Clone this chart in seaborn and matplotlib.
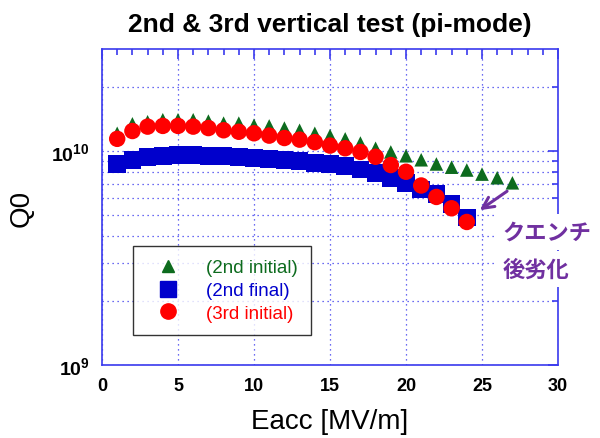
import math
import matplotlib
matplotlib.use('Agg')
import matplotlib.pyplot as plt
import seaborn as sns
from matplotlib.ticker import MultipleLocator, FixedLocator, NullFormatter, FuncFormatter
from matplotlib.lines import Line2D

# Data (Eacc in MV/m, Q0)
eacc_2nd_initial = [1, 2, 3, 4, 5, 6, 7, 8, 9, 10, 11, 12, 13, 14, 15, 16, 17, 18, 19, 20,
                    21, 22, 23, 24, 25, 26, 27]
q0_2nd_initial = [1.21e10, 1.34e10, 1.37e10, 1.40e10, 1.40e10, 1.40e10, 1.38e10, 1.35e10,
                  1.35e10, 1.32e10, 1.31e10, 1.28e10, 1.25e10, 1.21e10, 1.18e10, 1.14e10,
                  1.09e10, 1.03e10, 9.9e9, 9.5e9, 9.1e9, 8.7e9, 8.4e9, 8.15e9, 7.8e9,
                  7.5e9, 7.1e9]

eacc_2nd_final = [1, 2, 3, 4, 5, 6, 7, 8, 9, 10, 11, 12, 13, 14, 15, 16, 17, 18, 19, 20,
                  21, 22, 23, 24]
q0_2nd_final = [8.7e9, 9.1e9, 9.4e9, 9.5e9, 9.6e9, 9.6e9, 9.5e9, 9.5e9, 9.4e9, 9.3e9,
                9.2e9, 9.1e9, 9.0e9, 8.8e9, 8.7e9, 8.5e9, 8.2e9, 7.9e9, 7.5e9, 7.1e9,
                6.6e9, 6.3e9, 5.65e9, 4.9e9]

eacc_3rd_initial = [1, 2, 3, 4, 5, 6, 7, 8, 9, 10, 11, 12, 13, 14, 15, 16, 17, 18, 19, 20,
                    21, 22, 23, 24]
q0_3rd_initial = [1.14e10, 1.24e10, 1.30e10, 1.31e10, 1.31e10, 1.30e10, 1.28e10, 1.25e10,
                  1.23e10, 1.21e10, 1.18e10, 1.15e10, 1.13e10, 1.10e10, 1.06e10, 1.03e10,
                  9.9e9, 9.4e9, 8.6e9, 8.0e9, 6.9e9, 6.1e9, 5.4e9, 4.66e9]

series_labels = ['(2nd initial)', '(2nd final)', '(3rd initial)']

GREEN = '#0d6b1e'
BLUE = '#0000cc'
RED = '#ff0000'
PURPLE = '#7030a0'
AXBLUE = '#3a3aee'

sns.set_style('white')
plt.rcParams['font.family'] = ['Liberation Sans', 'DejaVu Sans']
plt.rcParams['text.color'] = 'black'
plt.rcParams['axes.labelcolor'] = 'black'
plt.rcParams['mathtext.fontset'] = 'custom'
plt.rcParams['mathtext.rm'] = 'Liberation Sans:bold'
plt.rcParams['mathtext.bf'] = 'Liberation Sans:bold'

fig = plt.figure(figsize=(6, 4.39), dpi=100)
ax = fig.add_axes([0.17, 0.1663, 0.76, 0.72])

# squares first, then triangles, circles on top
sns.scatterplot(x=eacc_2nd_final, y=q0_2nd_final, marker='s', s=160, color=BLUE,
                edgecolor='none', ax=ax, zorder=3)
sns.scatterplot(x=eacc_2nd_initial, y=q0_2nd_initial, marker='^', s=95, color=GREEN,
                edgecolor='none', ax=ax, zorder=4)
sns.scatterplot(x=eacc_3rd_initial, y=q0_3rd_initial, marker='o', s=140, color=RED,
                edgecolor='none', ax=ax, zorder=5)

ax.set_yscale('log')
ax.set_xlim(0, 30)
ax.set_ylim(1e9, 3e10)

ax.xaxis.set_major_locator(MultipleLocator(5))
ax.xaxis.set_minor_locator(MultipleLocator(1))
ax.yaxis.set_major_locator(FixedLocator([1e9, 1e10]))
ax.yaxis.set_minor_locator(FixedLocator([2e9, 3e9, 4e9, 5e9, 6e9, 7e9, 8e9, 9e9, 2e10]))
ax.yaxis.set_minor_formatter(NullFormatter())
ax.yaxis.set_major_formatter(FuncFormatter(
    lambda v, p: r'$\mathbf{10^{%d}}$' % round(math.log10(v))))

ax.tick_params(axis='both', which='both', direction='in', colors=AXBLUE,
               top=True, right=True, labelcolor='black')
ax.tick_params(axis='both', which='major', length=7, width=1.2, labelsize=13, pad=9)
ax.tick_params(axis='y', which='major', labelsize=14)
ax.tick_params(axis='both', which='minor', length=4, width=1.2)
for lab in ax.get_xticklabels():
    lab.set_fontweight('bold')
for sp in ax.spines.values():
    sp.set_color(AXBLUE)
    sp.set_linewidth(1.2)

ax.grid(True, axis='x', which='major', color=AXBLUE, linestyle=(0, (1, 3)), linewidth=0.9)
ax.grid(True, axis='y', which='both', color=AXBLUE, linestyle=(0, (1, 3)), linewidth=0.9)
ax.set_axisbelow(True)

ax.set_xlabel('Eacc [MV/m]', fontsize=20, labelpad=10)
ax.set_ylabel('Q0', fontsize=20, labelpad=12)
ax.set_title('2nd & 3rd vertical test (pi-mode)', fontsize=19, fontweight='bold', pad=13)

# legend with coloured labels
handles = [
    Line2D([], [], marker='^', linestyle='none', color=GREEN, markersize=9),
    Line2D([], [], marker='s', linestyle='none', color=BLUE, markersize=11),
    Line2D([], [], marker='o', linestyle='none', color=RED, markersize=11),
]
leg = ax.legend(handles, series_labels, loc='lower left', bbox_to_anchor=(0.068, 0.095),
                fontsize=13.5, frameon=True, fancybox=False, edgecolor='black',
                labelspacing=0.3, handletextpad=0.9, borderpad=0.7, handlelength=2.3,
                borderaxespad=0)
leg.get_frame().set_linewidth(1.0)
for txt, c in zip(leg.get_texts(), [GREEN, BLUE, RED]):
    txt.set_color(c)

# quench annotation
ax.annotate('', xy=(24.7, 5.2e9), xytext=(26.8, 6.6e9),
            arrowprops=dict(arrowstyle='->', color=PURPLE, lw=2.2, mutation_scale=20), zorder=6)
fig.text(0.838, 1 - 233 / 439, 'クエンチ', fontsize=16, color=PURPLE, fontweight='bold',
         family=['Noto Sans CJK JP', 'DejaVu Sans'], va='center', ha='left',
         bbox=dict(facecolor='white', edgecolor='none', pad=5))
fig.text(0.838, 1 - 270 / 439, '後劣化', fontsize=16, color=PURPLE, fontweight='bold',
         family=['Noto Sans CJK JP', 'DejaVu Sans'], va='center', ha='left',
         bbox=dict(facecolor='white', edgecolor='none', pad=5))

fig.savefig('out.png', dpi=100)
plt.close(fig)
